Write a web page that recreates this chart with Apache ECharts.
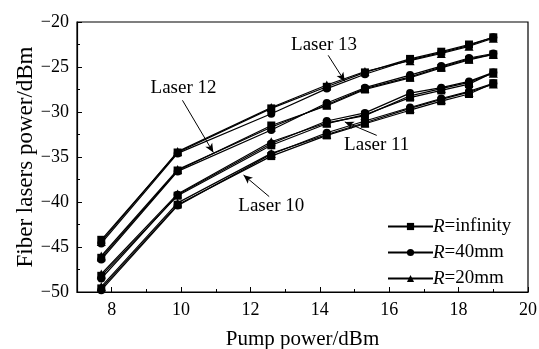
<!DOCTYPE html>
<html>
<head>
<meta charset="utf-8">
<script src="https://cdn.jsdelivr.net/npm/echarts@6/dist/echarts.min.js"></script>
<style>
html, body { margin: 0; padding: 0; background: #fff; }
#chart { width: 539px; height: 349px; }
</style>
</head>
<body>
<div id="chart"></div>
<script>
// pump power (dBm) where each point was measured
const pumpPower = [7.7, 9.9, 12.6, 14.2, 15.3, 16.6, 17.5, 18.3, 19.0];

// fiber laser output (dBm), one array per laser and bend radius
const laser13Inf = [-44.2, -34.5, -29.6, -27.2, -25.6, -24.1, -23.3, -22.5, -21.7];
const laser13R40 = [-44.6, -34.6, -30.2, -27.4, -25.8, -24.2, -23.4, -22.6, -21.7];
const laser13R20 = [-44.4, -34.4, -29.5, -27.0, -25.5, -24.3, -23.5, -22.7, -21.8];

const laser12Inf = [-46.2, -36.5, -31.5, -29.3, -27.5, -26.2, -25.1, -24.2, -23.6];
const laser12R40 = [-46.4, -36.6, -32.0, -29.0, -27.3, -25.9, -24.9, -24.0, -23.5];
const laser12R20 = [-46.0, -36.4, -31.7, -29.2, -27.4, -26.1, -25.0, -24.1, -23.6];

const laser11Inf = [-48.2, -39.3, -33.7, -31.3, -30.3, -28.4, -27.6, -26.9, -25.6];
const laser11R40 = [-48.5, -39.2, -33.5, -31.0, -30.1, -27.9, -27.3, -26.6, -25.6];
const laser11R20 = [-48.0, -39.1, -33.3, -31.2, -30.4, -28.2, -27.4, -26.7, -25.7];

const laser10Inf = [-49.6, -40.3, -34.9, -32.6, -31.3, -29.8, -28.8, -28.0, -26.8];
const laser10R40 = [-49.8, -40.4, -34.7, -32.3, -31.0, -29.5, -28.5, -27.7, -26.8];
const laser10R20 = [-49.4, -40.1, -34.6, -32.5, -31.2, -29.6, -28.6, -27.8, -26.9];

const xTicks = [8, 10, 12, 14, 16, 18, 20];
const radiusNames = ['infinity', '40mm', '20mm'];

// label text + arrow tail/head, in data units
const laserNotes = [
  { text: 'Laser 13', at: [14.12, -22.6], from: [14.24, -23.7], to: [14.72, -26.6] },
  { text: 'Laser 12', at: [10.07, -27.3], from: [10.04, -28.7], to: [10.93, -34.5] },
  { text: 'Laser 11', at: [15.64, -33.7], from: [15.64, -32.6], to: [14.72, -31.1] },
  { text: 'Laser 10', at: [12.60, -40.4], from: [12.54, -39.4], to: [11.80, -37.0] }
];

const font = 'Liberation Serif, Times New Roman, serif';

function pairs(ys) {
  return ys.map((y, i) => [pumpPower[i], y]);
}

function makeSeries(name, ys, symbol, size) {
  return {
    name: name,
    type: 'line',
    data: pairs(ys),
    symbol: symbol,
    symbolSize: size,
    showAllSymbol: true,
    lineStyle: { color: '#000', width: 1.2 },
    itemStyle: { color: '#000' },
    emphasis: { disabled: true }
  };
}

const series = [];
[[laser13Inf, laser13R40, laser13R20],
 [laser12Inf, laser12R40, laser12R20],
 [laser11Inf, laser11R40, laser11R20],
 [laser10Inf, laser10R40, laser10R20]].forEach(group => {
  series.push(makeSeries('infinity', group[0], 'rect', 8));
  series.push(makeSeries('40mm', group[1], 'circle', 8));
  series.push(makeSeries('20mm', group[2], 'triangle', 9));
});

// arrows and "Laser N" labels
series.push({
  name: 'notes',
  type: 'scatter',
  data: [],
  markLine: {
    silent: true,
    symbol: ['none', 'arrow'],
    symbolSize: [6, 9],
    lineStyle: { color: '#000', width: 1, type: 'solid' },
    label: { show: false },
    data: laserNotes.map(n => [{ coord: n.from }, { coord: n.to }])
  },
  markPoint: {
    silent: true,
    symbol: 'circle',
    symbolSize: 1,
    itemStyle: { color: 'rgba(0,0,0,0)' },
    label: {
      show: true,
      position: 'inside',
      formatter: '{b}',
      color: '#000',
      fontFamily: font,
      fontSize: 19
    },
    data: laserNotes.map(n => ({ name: n.text, coord: n.at }))
  }
});

const chart = echarts.init(document.getElementById('chart'));
chart.setOption({
  animation: false,
  backgroundColor: '#fff',
  grid: {
    left: 77, right: 11, top: 22, bottom: 57,
    outerBoundsMode: 'none',
    containLabel: false,
    show: true, borderColor: '#000', borderWidth: 1.2
  },
  legend: {
    data: radiusNames,
    orient: 'vertical',
    left: 382,
    top: 212,
    itemWidth: 45,
    itemHeight: 9,
    itemGap: 7,
    selectedMode: false,
    formatter: name => '{i|R}=' + name,
    textStyle: {
      color: '#000',
      fontFamily: font,
      fontSize: 19,
      padding: [0, 0, 0, -5],
      rich: { i: { fontStyle: 'italic', fontFamily: font, fontSize: 19, color: '#000' } }
    }
  },
  xAxis: [
    {
      type: 'value',
      min: 7,
      max: 20,
      name: 'Pump power/dBm',
      nameLocation: 'middle',
      nameGap: 37,
      nameMoveOverlap: false,
      nameTextStyle: { color: '#000', fontFamily: font, fontSize: 21 },
      axisLine: { lineStyle: { color: '#000', width: 1.2 } },
      axisTick: { inside: true, length: 5, customValues: xTicks, lineStyle: { color: '#000' } },
      axisLabel: { customValues: xTicks, color: '#000', fontFamily: font, fontSize: 18, margin: 9 },
      splitLine: { show: false }
    },
    {
      // minor ticks on the odd values
      type: 'value',
      position: 'bottom',
      min: 7,
      max: 20,
      interval: 1,
      axisLine: { show: false },
      axisTick: { inside: true, length: 3, lineStyle: { color: '#000' } },
      axisLabel: { show: false },
      splitLine: { show: false }
    }
  ],
  yAxis: {
    type: 'value',
    min: -50,
    max: -20,
    interval: 5,
    name: 'Fiber lasers power/dBm',
    nameLocation: 'middle',
    nameGap: 40,
    nameMoveOverlap: false,
    nameTextStyle: { color: '#000', fontFamily: font, fontSize: 23 },
    axisLine: { lineStyle: { color: '#000', width: 1.2 } },
    axisTick: { inside: true, length: 5, lineStyle: { color: '#000' } },
    minorTick: { show: true, splitNumber: 2, length: 3, lineStyle: { color: '#000' } },
    axisLabel: {
      color: '#000',
      fontFamily: font,
      fontSize: 18,
      margin: 8,
      formatter: v => (v < 0 ? '\u2212' : '') + Math.abs(v)
    },
    splitLine: { show: false }
  },
  series: series
});
</script>
</body>
</html>
